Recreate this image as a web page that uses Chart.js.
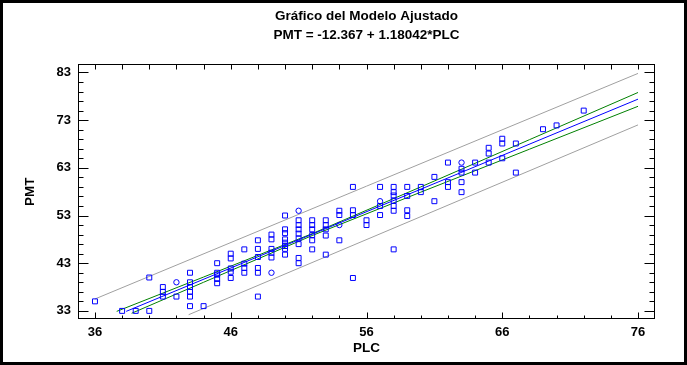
<!DOCTYPE html>
<html>
<head>
<meta charset="utf-8">
<script src="https://cdn.jsdelivr.net/npm/chart.js@4"></script>
<style>
  body { margin: 0; background: #fff; }
  #wrap { position: relative; width: 687px; height: 365px; }
  #frame { position: absolute; left: 0; top: 0; width: 687px; height: 365px; box-sizing: border-box; border: 3px solid #000; pointer-events: none; }
</style>
</head>
<body>
<div id="wrap">
  <canvas id="fitChart" width="687" height="365"></canvas>
  <div id="frame"></div>
</div>
<script>
// observed points (squares)
const plcObs = [
  36, 38, 39, 40, 40,
  41, 41, 41, 42,
  43, 43, 43, 43, 43, 43, 44,
  45, 45, 45, 45, 45,
  46, 46, 46, 46, 46,
  47, 47, 47, 47,
  48, 48, 48, 48, 48, 48,
  49, 49, 49, 49, 49,
  50, 50, 50, 50, 50, 50, 50, 50,
  51, 51, 51, 51, 51, 51, 51, 51,
  52, 52, 52, 52, 52, 52,
  53, 53, 53, 53, 53,
  54, 54, 54,
  55, 55, 55, 55,
  56, 56,
  57, 57, 57,
  58, 58, 58, 58, 58, 58, 58,
  59, 59, 59, 59,
  60, 60,
  61, 61,
  62, 62, 62,
  63, 63, 63, 63,
  64, 64,
  65, 65, 65,
  66, 66, 66,
  67, 67,
  69, 70, 72
];
const pmtObs = [
  35, 33, 33, 33, 40,
  38, 37, 36, 36,
  41, 39, 38, 37, 36, 34, 34,
  43, 41, 40.6, 39.7, 38.8,
  45, 44, 41.9, 41.2, 39.9,
  45.9, 42.9, 42, 41,
  47.8, 46, 44.3, 42, 41, 36,
  49, 48, 46, 45.2, 44.2,
  53, 50.1, 49.3, 48, 47.3, 46.6, 46, 44.8,
  52, 51, 50.1, 49.2, 48.2, 47, 44.1, 43,
  52, 51, 50.1, 48.9, 47.8, 45.9,
  52, 51, 50.1, 48.8, 44.8,
  54, 53.1, 47.8,
  59, 54.1, 53.1, 39.9,
  52, 51,
  59, 55, 53.1,
  59, 57.9, 57.2, 56.1, 55, 54, 45.9,
  59, 57.1, 54.1, 52.9,
  59, 57.9,
  61.1, 56,
  64.1, 60, 59,
  62.8, 62, 60, 57.9,
  64.1, 62,
  67.2, 66, 64.1,
  69.1, 68.1, 65,
  68.1, 62,
  71.1, 71.9, 75
];

// observed points drawn as circles
const plcCircle = [42, 49, 51, 54, 57, 63];
const pmtCircle = [39, 41, 54, 51, 56, 64.1];

// fitted line and limits
const fitX = [38.3, 76];
const fitY = [32.9, 77.4];
const confUpX = [37.6, 44, 52, 60, 68, 76];
const confUpY = [32.9, 40.1, 49.2, 59.0, 68.9, 78.8];
const confLoX = [38.7, 44, 52, 60, 68, 76];
const confLoY = [32.5, 39.0, 48.8, 57.9, 66.9, 75.9];
const predUpX = [36, 76];
const predUpY = [35.5, 82.8];
const predLoX = [42.9, 76];
const predLoY = [32.2, 72.0];

const xLabels = [36, 46, 56, 66, 76];
const yLabels = [33, 43, 53, 63, 73, 83];

const FONT = "'Liberation Sans', Arial, sans-serif";

function pairs(xs, ys) {
  return xs.map((v, i) => ({ x: v, y: ys[i] }));
}

function lineSet(xs, ys, color) {
  return {
    type: 'scatter',
    data: pairs(xs, ys),
    showLine: true,
    borderColor: color,
    borderWidth: 1,
    pointRadius: 0,
    fill: false
  };
}

// frame around plot + inward tick marks
const frameTicks = {
  id: 'frameTicks',
  afterDatasetsDraw(chart) {
    const { ctx, chartArea: a, scales } = chart;
    const x = scales.x, y = scales.y;
    const L = Math.round(a.left) + 0.5, R = Math.round(a.right) - 0.5;
    const T = Math.round(a.top) + 0.5, B = Math.round(a.bottom) - 0.5;
    ctx.save();
    ctx.strokeStyle = '#000';
    ctx.lineWidth = 1;
    ctx.beginPath();
    for (let v = yLabels[0]; v <= yLabels[yLabels.length - 1]; v += 2) {
      const py = Math.round(y.getPixelForValue(v)) + 0.5;
      const len = yLabels.includes(v) ? 10 : 5;
      ctx.moveTo(L, py); ctx.lineTo(L + len, py);
      ctx.moveTo(R, py); ctx.lineTo(R - len, py);
    }
    for (let v = xLabels[0]; v <= xLabels[xLabels.length - 1]; v += 2) {
      const px = Math.round(x.getPixelForValue(v)) + 0.5;
      const len = xLabels.includes(v) ? 6 : 3;
      ctx.moveTo(px, B); ctx.lineTo(px, B - len);
      ctx.moveTo(px, T); ctx.lineTo(px, T + 5);
    }
    ctx.stroke();
    ctx.strokeRect(L, T, R - L, B - T);
    ctx.restore();
  }
};

new Chart(document.getElementById('fitChart'), {
  type: 'scatter',
  data: {
    datasets: [
      {
        data: pairs(plcObs, pmtObs),
        pointStyle: 'rect',
        pointRadius: 3.5,
        borderColor: '#0000ff',
        backgroundColor: 'rgba(0,0,0,0)',
        borderWidth: 1
      },
      {
        data: pairs(plcCircle, pmtCircle),
        pointStyle: 'circle',
        pointRadius: 2.7,
        borderColor: '#0000ff',
        backgroundColor: 'rgba(0,0,0,0)',
        borderWidth: 1
      },
      lineSet(fitX, fitY, '#0000ff'),
      lineSet(confUpX, confUpY, '#008000'),
      lineSet(confLoX, confLoY, '#008000'),
      lineSet(predUpX, predUpY, '#a0a0a0'),
      lineSet(predLoX, predLoY, '#a0a0a0')
    ]
  },
  options: {
    responsive: false,
    animation: false,
    events: [],
    layout: { padding: { left: 0, right: 32, top: 7, bottom: 0 } },
    plugins: {
      legend: { display: false },
      tooltip: { enabled: false },
      title: {
        display: true,
        fullSize: false,
        text: ['Gráfico del Modelo Ajustado', 'PMT = -12.367 + 1.18042*PLC'],
        color: '#000',
        font: { family: FONT, size: 13.5, weight: 'bold', lineHeight: 1.42 },
        padding: { top: 0, bottom: 19 }
      }
    },
    scales: {
      x: {
        type: 'linear',
        min: 34.75,
        max: 77.25,
        afterBuildTicks: s => { s.ticks = xLabels.map(v => ({ value: v })); },
        afterFit: s => { s.height = 46; },
        grid: { display: false, drawTicks: false },
        border: { display: false },
        ticks: {
          color: '#000',
          padding: 6,
          font: { family: FONT, size: 13, weight: 'bold' },
          maxRotation: 0
        },
        title: {
          display: true,
          text: 'PLC',
          color: '#000',
          font: { family: FONT, size: 13.5, weight: 'bold' },
          padding: { top: 0, bottom: 9 }
        }
      },
      y: {
        type: 'linear',
        min: 31.3,
        max: 84.7,
        afterBuildTicks: s => { s.ticks = yLabels.map(v => ({ value: v })); },
        afterFit: s => { s.width = 78; },
        grid: { display: false, drawTicks: false },
        border: { display: false },
        ticks: {
          color: '#000',
          padding: 7,
          font: { family: FONT, size: 13, weight: 'bold' }
        },
        title: {
          display: true,
          text: 'PMT',
          color: '#000',
          font: { family: FONT, size: 13.5, weight: 'bold' },
          padding: { top: 22, bottom: 0 }
        }
      }
    }
  },
  plugins: [frameTicks]
});
</script>
</body>
</html>
